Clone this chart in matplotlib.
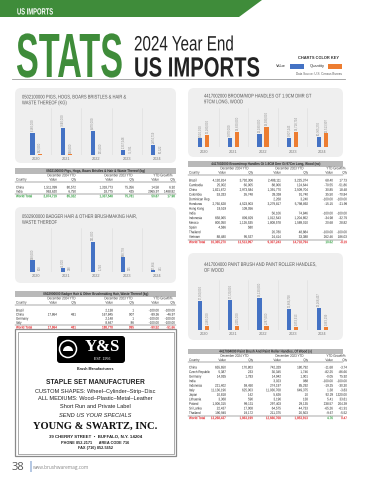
import matplotlib
matplotlib.use("Agg")
import numpy as np
import matplotlib.pyplot as plt
from matplotlib.patches import FancyBboxPatch, Rectangle, Polygon, Circle, Wedge
from matplotlib.lines import Line2D
from matplotlib.transforms import IdentityTransform, Affine2D
from matplotlib.patheffects import AbstractPathEffect

W, H = 371, 480
SANS = ['Liberation Sans', 'DejaVu Sans']
SERIF = ['Liberation Serif', 'DejaVu Serif']
BLUE = '#4472c4'
ORANGE = '#ed7d31'
GREEN = '#3f8c3a'
RED = '#e3262b'
TGREEN = '#2a9d3a'

years = ['2020', '2021', '2022', '2023', '2024']

# bar chart data (value $, quantity)
pigs_value = [6180000, 7640000, 6870000, 1337548, 2874719]
pigs_qty = [182000, 148000, 131000, 75781, 85322]
badger_value = [148000, 45000, 391000, 188778, 17864]
badger_qty = [808, 338, 1740, 995, 481]
broom_value = [8510000, 9370000, 13180000, 9307243, 10365270]
broom_qty = [12280000, 14820000, 19930000, 14718794, 13513997]
paint_value = [17360000, 17720000, 19130000, 12666768, 13268437]
paint_qty = [2180000, 2495000, 2287000, 1853913, 1863199]

# tables: country, value 2024, qty 2024, value 2023, qty 2023, growth value, growth qty
pigs_rows = [
    ['China', '1,511,099', '80,572', '1,318,773', '75,356', '14.58', '6.92'],
    ['India', '963,620', '6,750', '18,775', '425', '2965.97', '1488.82'],
]
pigs_total = ['World Total', '2,874,719', '85,322', '1,337,548', '75,781', '50.87', '17.98']
badger_rows = [
    ['Brazil', '', '', '2,138', '1', '-100.00', '-100.00'],
    ['China', '17,864', '481', '167,845', '907', '-89.36', '-46.97'],
    ['Germany', '', '', '2,148', '1', '-100.00', '-100.00'],
    ['Italy', '', '', '8,647', '86', '-100.00', '-100.00'],
]
badger_total = ['World Total', '17,864', '481', '188,778', '995', '-90.52', '-51.66']
broom_rows = [
    ['Brazil', '4,192,814', '3,792,306', '2,488,111', '3,225,374', '68.40', '17.73'],
    ['Cambodia', '25,902', '60,005', '88,006', '124,644', '-70.55', '-51.86'],
    ['China', '1,821,672', '2,973,584', '1,391,770', '2,509,704', '30.85', '18.48'],
    ['Colombia', '53,333', '26,748', '39,359', '91,740', '35.50', '-70.84'],
    ['Dominican Rep.', '', '', '2,268', '3,240', '-100.00', '-100.00'],
    ['Honduras', '2,760,628', '4,523,903', '3,279,817', '5,798,892', '-15.15', '-21.99'],
    ['Hong Kong', '19,519', '109,056', '', '', '', ''],
    ['India', '', '', '56,106', '74,846', '-100.00', '-100.00'],
    ['Indonesia', '658,065', '809,829', '1,012,543', '1,204,852', '-34.98', '-32.79'],
    ['Mexico', '800,050', '1,126,535', '1,808,578', '1,589,010', '20.68', '28.82'],
    ['Spain', '4,586', '580', '', '', '', ''],
    ['Thailand', '', '', '20,780', '48,884', '-100.00', '-100.00'],
    ['Vietnam', '88,480', '95,537', '24,414', '33,388', '262.46', '186.03'],
]
broom_total = ['World Total', '10,365,270', '13,513,997', '9,307,243', '14,718,794', '10.62', '-8.19']
paint_rows = [
    ['China', '655,650', '170,803', '742,329', '180,792', '-11.68', '-3.74'],
    ['Czech Republic', '5,387', '233', '30,345', '1,746', '-82.25', '-86.66'],
    ['Germany', '14,935', '1,783', '14,942', '1,001', '-0.05', '75.92'],
    ['India', '', '', '3,023', '988', '-100.00', '-100.00'],
    ['Indonesia', '221,402', '59,450', '274,197', '85,292', '-19.25', '-30.30'],
    ['Italy', '11,136,196', '625,003', '11,036,768', '649,375', '1.38', '-3.83'],
    ['Japan', '10,818', '142', '5,626', '10', '92.29', '1320.00'],
    ['Lithuania', '3,368', '590', '3,196', '138', '5.41', '33.81'],
    ['Poland', '1,006,315', '99,131', '297,403', '29,135', '238.57', '204.39'],
    ['Sri Lanka', '22,437', '17,008', '64,575', '44,733', '-65.26', '-61.91'],
    ['Thailand', '190,945', '19,172', '211,375', '20,503', '-9.67', '-5.52'],
]
paint_total = ['World Total', '13,268,437', '1,863,199', '12,666,768', '1,853,913', '4.76', '0.47']

fig = plt.figure(figsize=(W / 100, H / 100), dpi=100)
fig.patch.set_facecolor('white')
PIX = IdentityTransform()
renderer = fig.canvas.get_renderer()


class Squeeze(AbstractPathEffect):
    # narrows glyphs horizontally around the text anchor (condensed look)
    def __init__(self, sx, x0):
        super().__init__()
        self.sx, self.x0 = sx, x0

    def draw_path(self, renderer, gc, tpath, affine, rgbFace=None):
        affine = affine + Affine2D().translate(-self.x0, 0).scale(self.sx, 1).translate(self.x0, 0)
        renderer.draw_path(gc, tpath, affine, rgbFace)


def txt(x, y, s, size, sq=1.0, **kw):
    kw.setdefault('family', SANS)
    kw.setdefault('va', 'center')
    t = fig.text(x / W, 1 - y / H, s, fontsize=size, **kw)
    if sq != 1.0:
        t.set_path_effects([Squeeze(sq, x)])
    return t


def fit_factor(s, size, width, **kw):
    t = txt(0, 0, s, size, ha='left', **kw)
    w = t.get_window_extent(renderer=renderer).width
    t.remove()
    return width / w


def fit_text(x, y, s, size, width, **kw):
    sq = fit_factor(s, size, width, **kw)
    return txt(x, y, s, size, sq=sq, ha='left', va='baseline', **kw)


def rect(x0, y0, x1, y1, z=1, **kw):
    fig.add_artist(Rectangle((x0, H - y1), x1 - x0, y1 - y0, transform=PIX, zorder=z, **kw))


def rbox(x0, y0, x1, y1, r, z=-1, **kw):
    fig.add_artist(FancyBboxPatch((x0, H - y1), x1 - x0, y1 - y0, zorder=z,
                                  boxstyle=f'round,pad=0,rounding_size={r}', transform=PIX, **kw))


def hline(x0, x1, y, **kw):
    fig.add_artist(Line2D([x0, x1], [H - y, H - y], transform=PIX, **kw))


# ---- header ----
fig.add_artist(Polygon([(0, H), (262, H), (239, H - 17), (0, H - 17)], closed=True,
                       transform=PIX, color=GREEN, lw=0))
fit_text(17, 14.5, 'US IMPORTS', 6.5, 36, color='white', weight='bold')
fit_text(16, 77, 'STATS', 45, 107, color=GREEN, weight='bold')
fit_text(134, 50.5, '2024 Year End', 15, 100, color='#222222')
fit_text(134, 76.5, 'US IMPORTS', 20, 126, color='#222222', weight='bold')
hline(12, 345, 79, color='#9a9a9a', lw=0.6)

txt(318, 58, 'CHARTS COLOR KEY', 2.9, ha='center', weight='bold', color='#333333')
txt(286, 66, 'Value', 2.9, ha='right', color='#333333')
rect(290, 63.5, 304, 68.5, color=BLUE, lw=0)
txt(325, 66, 'Quantity', 2.9, ha='right', color='#333333')
rect(328, 63.5, 342, 68.5, color=ORANGE, lw=0)
txt(342, 74, 'Data Source: U.S. Census Bureau', 2.2, ha='right', color='#555555')

# one condensing factor for all chart titles, from the first one
TITLE_SQ = fit_factor('0502100000 PIGS, HOGS, BOARS BRISTLES & HAIR &', 3.8, 104)


# ---- bar charts ----
def bar_chart(x0, x1, base, top, tall_px, values, qtys, title, tx, ty):
    ax = fig.add_axes([x0 / W, 1 - base / H, (x1 - x0) / W, (base - top) / H])
    ax.patch.set_alpha(0)
    pos = np.arange(len(years))
    ax.bar(pos - 0.12, values, 0.14, color=BLUE, zorder=3)
    ax.bar(pos + 0.12, qtys, 0.14, color=ORANGE, zorder=3)
    ymax = max(max(values), max(qtys)) * (base - top) / tall_px
    ax.set_xlim(-0.5, len(years) - 0.5)
    ax.set_ylim(0, ymax)
    for p in pos[:-1]:
        ax.axvline(p + 0.5, color='#dddddd', lw=0.4)
    ax.axhline(0, color='#d0d0d0', lw=0.5)
    for p, v, q in zip(pos, values, qtys):
        ax.text(p - 0.12, v + ymax * 0.04, f'{v:,}', rotation=90, ha='center', va='bottom',
                fontsize=2.0, color='#8a8a8a', family=SANS)
        ax.text(p + 0.12, q + ymax * 0.04, f'{q:,}', rotation=90, ha='center', va='bottom',
                fontsize=2.0, color='#8a8a8a', family=SANS)
    ax.set_xticks(pos, years)
    ax.set_yticks([])
    ax.tick_params(length=0, pad=1.6, labelsize=2.8, labelcolor='#777777')
    for lab in ax.get_xticklabels():
        lab.set_family(SANS)
    for s in ax.spines.values():
        s.set_visible(False)
    txt(tx, ty, title[0], 3.8, sq=TITLE_SQ, ha='left', color='#555555')
    txt(tx, ty + 5.8, title[1], 3.8, sq=TITLE_SQ, ha='left', color='#555555')


rbox(15, 88, 176, 163, 6, color='#efefef', lw=0)
bar_chart(21, 172, 155, 108, 27, pigs_value, pigs_qty,
          ['0502100000 PIGS, HOGS, BOARS BRISTLES & HAIR &', 'WASTE THEREOF (KG)'], 22, 97)
rbox(15, 207, 176, 283, 6, color='#efefef', lw=0)
bar_chart(21, 172, 271.7, 228, 29.7, badger_value, badger_qty,
          ['0502900000 BADGER HAIR & OTHER BRUSHMAKING HAIR,', 'WASTE THEREOF'], 22, 216.5)
rbox(188, 88, 343, 157, 6, color='#efefef', lw=0)
bar_chart(189, 337, 147.3, 108, 20.7, broom_value, broom_qty,
          ['4417002000 BROOM/MOP HANDLES GT 1.9CM DMR GT', '97CM LONG, WOOD'], 204, 96)
rbox(188, 253, 343, 340, 6, color='#efefef', lw=0)
bar_chart(189, 337, 330, 280, 32, paint_value, paint_qty,
          ['4417004000 PAINT BRUSH AND PAINT ROLLER HANDLES,', 'OF WOOD'], 204, 264.5)


# ---- tables ----
TSQ = 0.8


def table(x0, x1, cols, band_y, title, rows, total, total_colors, first_y, step):
    fs = 2.7
    rect(x0, band_y - 2.8, x1, band_y + 2.8, color='#b9b9b9', lw=0)
    txt((x0 + x1) / 2, band_y, title, 2.8, sq=TSQ, ha='center', weight='bold', color='#2a2a2a')
    hy = band_y + 4.4
    txt((cols[0] + cols[1]) / 2 - 5, hy, 'December 2024 YTD', fs, sq=TSQ, ha='center', color='#333333')
    txt((cols[2] + cols[3]) / 2 - 5, hy, 'December 2023 YTD', fs, sq=TSQ, ha='center', color='#333333')
    txt((cols[4] + cols[5]) / 2 - 4, hy, 'YTD Growth%', fs, sq=TSQ, ha='center', color='#333333')
    sy = band_y + 8.6
    txt(x0 + 1, sy, 'Country', fs, sq=TSQ, ha='left', color='#333333')
    for c, lab in zip(cols, ['Value', 'Qty'] * 3):
        txt(c, sy, lab, fs, sq=TSQ, ha='right', color='#333333')
    hline(x0, x1, sy + 2.1, color='#333333', lw=0.3)
    y = first_y
    for row in rows:
        txt(x0 + 1, y, row[0], fs, sq=TSQ, ha='left', color='#222222')
        for c, v in zip(cols, row[1:]):
            txt(c, y, v, fs, sq=TSQ, ha='right', color='#222222')
        y += step
    hline(x0, x1, y - step / 2 + 0.4, color='#333333', lw=0.3)
    y += 0.6
    txt(x0 + 1, y, total[0], fs, sq=TSQ, ha='left', color=total_colors[0], weight='bold')
    for c, v, col in zip(cols, total[1:], total_colors[1:]):
        txt(c, y, v, fs, sq=TSQ, ha='right', color=col, weight='bold')


left_cols = [57, 76, 113, 134, 159, 175]
right_cols = [226, 253, 281, 308, 333, 347]
table(15, 176, left_cols, 171, '0502100000 Pigs, Hogs, Boars Bristles & Hair & Waste Thereof (kg)',
      pigs_rows, pigs_total, [TGREEN] * 7, 187.5, 4.1)
table(15, 176, left_cols, 294, '0502900000 Badger Hair & Other Brushmaking Hair, Waste Thereof (kg)',
      badger_rows, badger_total, [RED] * 7, 310.5, 4.1)
table(188, 343, right_cols, 164, '4417002000 Broom/mop Handles Gt 1.9CM Dmr Gt 97Cm Long, Wood (no)',
      broom_rows, broom_total, [RED] * 5 + [TGREEN, RED], 180.5, 4.7)
table(188, 343, right_cols, 351.5, '4417004000 Paint Brush And Paint Roller Handles, Of Wood (x)',
      paint_rows, paint_total, [RED] * 5 + [TGREEN, RED], 367.5, 4.55)

# ---- advertisement ----
rect(15, 329, 176, 456, fill=False, edgecolor='#8a8a8a', lw=0.9)
rect(17.5, 331.5, 173.5, 453.5, fill=False, edgecolor='#8a8a8a', lw=0.5)
rbox(57, 336, 125, 363, 3, z=1, color='black', lw=0)
fig.add_artist(Circle((68, H - 349), 8.5, transform=PIX, facecolor='black', edgecolor='white', lw=1.1))
fig.add_artist(Wedge((68, H - 351), 5, 0, 180, transform=PIX, color='white', lw=0))
txt(102, 347, 'Y&S', 12, ha='center', color='white', weight='bold', family=SERIF)
txt(102, 358.5, 'EST. 1956', 2.6, ha='center', color='white')
cx = 95.5
txt(cx, 369, 'Brush Manufacturers', 2.6, ha='center', weight='bold', color='#222222')
txt(cx, 383, 'STAPLE SET MANUFACTURER', 4.8, ha='center', weight='bold', color='#222222')
txt(cx, 391, 'CUSTOM SHAPES: Wheel–Cylinder–Strip–Disc', 4.1, ha='center', color='#222222')
txt(cx, 398.5, 'ALL MEDIUMS: Wood–Plastic–Metal–Leather', 4.1, ha='center', color='#222222')
txt(cx, 406, 'Short Run and Private Label', 4.1, ha='center', color='#222222')
txt(cx, 415.5, 'SEND US YOUR SPECIALS', 4.1, ha='center', style='italic', color='#222222')
txt(cx, 426.5, 'YOUNG & SWARTZ, INC.', 7.6, ha='center', weight='bold', color='#111111', family=SERIF)
txt(cx, 436.5, '39 CHERRY STREET  •  BUFFALO, N.Y. 14204', 3.2, ha='center', weight='bold', color='#222222')
txt(cx, 442.5, 'PHONE 852-2171      AREA CODE 716', 2.8, ha='center', weight='bold', color='#222222')
txt(cx, 448.5, 'FAX (716) 852-5652', 2.8, ha='center', weight='bold', color='#222222')

# ---- footer ----
txt(12, 467, '38', 8, ha='left', color='#555555', family=['Open Sans', 'DejaVu Sans'])
txt(27, 467, '|', 8, ha='left', color='#3b6fb6', family=['Open Sans', 'DejaVu Sans'])
txt(33, 467.5, 'www.brushwaremag.com', 3.4, ha='left', color='#888888', family=['Open Sans', 'DejaVu Sans'])

fig.savefig('out.png', dpi=100)
